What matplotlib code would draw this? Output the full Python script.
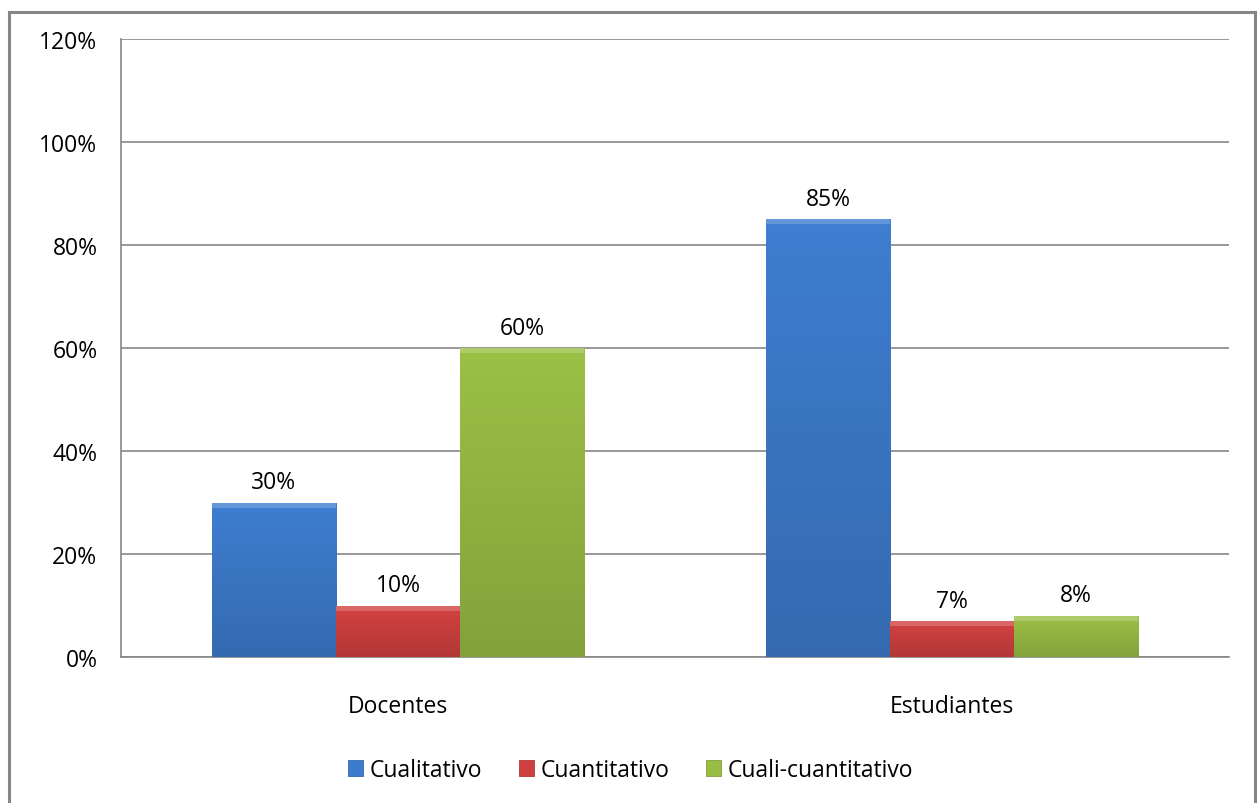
import numpy as np
import matplotlib
matplotlib.use("Agg")
import matplotlib.pyplot as plt
from matplotlib.patches import Rectangle
from matplotlib.ticker import PercentFormatter
import matplotlib.colors as mcolors

plt.rcParams['font.family'] = ['Open Sans', 'DejaVu Sans']

# data
categories = ["Docentes", "Estudiantes"]
series_names = ["Cualitativo", "Cuantitativo", "Cuali-cuantitativo"]
cualitativo = [0.30, 0.85]
cuantitativo = [0.10, 0.07]
cuali_cuantitativo = [0.60, 0.08]
y_ticks = [0, 0.2, 0.4, 0.6, 0.8, 1.0, 1.2]

colors = ["#3d7bcc", "#cf4140", "#99bc44"]

W, H = 1259, 804
fig = plt.figure(figsize=(W / 100, H / 100), dpi=100)

# outer chart border, drawn with an empty background axes
frame = fig.add_axes([9 / W, -0.02, (W - 13) / W, 1.02 - 13 / H], zorder=-5)
frame.set_xticks([])
frame.set_yticks([])
for s in frame.spines.values():
    s.set_color("#868686")
    s.set_linewidth(2.2)

ax = fig.add_axes([121 / W, (H - 658) / H, (1229 - 121) / W, (658 - 40) / H])
ax.patch.set_alpha(0)

x = np.arange(len(categories))
width = 0.224
all_series = [cualitativo, cuantitativo, cuali_cuantitativo]

for i, (vals, name, col) in enumerate(zip(all_series, series_names, colors)):
    pos = x + (i - 1) * width
    base = np.array(mcolors.to_rgb(col))
    bars = ax.bar(pos, vals, width, color=col, label=name, zorder=3,
                  edgecolor=mcolors.to_hex(base * 0.85), linewidth=0.6)
    # soft vertical gradient, like the excel bevel look
    for b in bars:
        bx, bw, bh = b.get_x(), b.get_width(), b.get_height()
        t = np.linspace(0, 1, 64)[:, None]
        grad = np.clip(base * (0.86 + 0.16 * t), 0, 1)[:, None, :]
        grad = np.repeat(grad, 2, axis=1)
        im = ax.imshow(grad, extent=(bx, bx + bw, 0, bh), origin="lower",
                       aspect="auto", zorder=3.5, interpolation="bilinear")
        im.set_clip_path(b)
        # top bevel highlight
        bev = min(0.01, bh * 0.25)
        ax.add_patch(Rectangle((bx, bh - bev), bw, bev, facecolor="white",
                               alpha=0.2, linewidth=0, zorder=3.6))
    ax.bar_label(bars, labels=[f"{v * 100:.0f}%" for v in vals], padding=6,
                 fontsize=16.5, color="black", zorder=5)

ax.set_xlim(-0.5, 1.5)
ax.set_ylim(0, 1.2)
ax.set_yticks(y_ticks)
ax.yaxis.set_major_formatter(PercentFormatter(1.0, decimals=0))
ax.set_xticks(x)
ax.set_xticklabels(categories)
ax.tick_params(axis="both", length=0, labelsize=16.5)
ax.tick_params(axis="x", pad=27)
ax.tick_params(axis="y", pad=17)

ax.grid(axis="y", color="#868686", linewidth=1.2, zorder=0)
ax.set_axisbelow(True)
for s in ["top", "right"]:
    ax.spines[s].set_visible(False)
for s in ["left", "bottom"]:
    ax.spines[s].set_color("#868686")
    ax.spines[s].set_linewidth(1.2)

fig.legend(loc="center", bbox_to_anchor=(0.501, 0.041), ncol=3, frameon=False,
           fontsize=16.5, handlelength=0.65, handleheight=0.65, handletextpad=0.3,
           columnspacing=1.6)

fig.savefig("out.png", dpi=100)
